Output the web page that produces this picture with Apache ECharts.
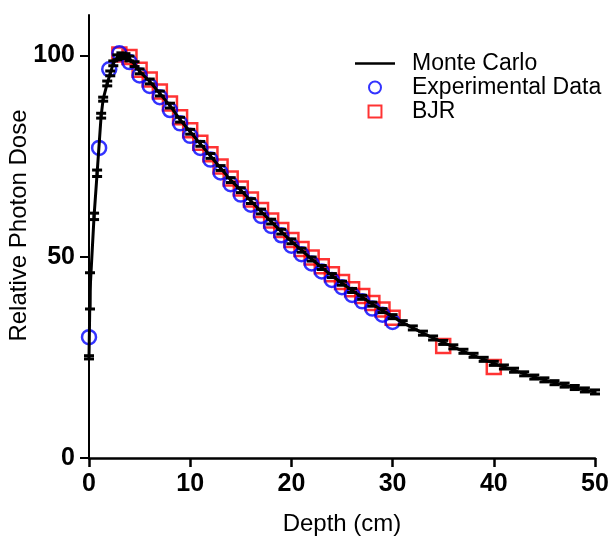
<!DOCTYPE html>
<html>
<head>
<meta charset="utf-8">
<script src="https://cdn.jsdelivr.net/npm/echarts@6/dist/echarts.min.js"></script>
<style>
  html, body { margin: 0; padding: 0; background: #fff; }
  #chart { width: 609px; height: 537px; }
</style>
</head>
<body>
<div id="chart"></div>
<script>
// Monte Carlo depth dose (cm, relative dose, error)
const mcDepth = [0, 0.1, 0.5, 0.8, 1.2, 1.4, 1.8, 2.1, 2.4, 2.8, 3.2, 3.6, 4, 4.5, 5,
  6, 7, 8, 9, 10, 11, 12, 13, 14, 15, 16, 17, 18, 19, 20,
  21, 22, 23, 24, 25, 26, 27, 28, 29, 30, 31, 32, 33, 34, 35,
  36, 37, 38, 39, 40, 41, 42, 43, 44, 45, 46, 47, 48, 49, 50];
const mcDose = [25, 41.5, 60, 70.7, 85, 89.1, 93, 95.5, 98, 99.5, 100, 99.8, 99.2, 97.8, 96,
  93.5, 90.5, 87.5, 84, 81, 78, 75, 72, 69, 66.5, 63.8, 61.2, 58.7, 56.2, 53.8,
  51.6, 49.4, 47.3, 45.3, 43.4, 41.6, 39.9, 38.2, 36.6, 35.1, 33.6, 32.3, 31.0, 29.8, 28.7,
  27.6, 26.5, 25.5, 24.5, 23.5, 22.6, 21.8, 20.9, 20.1, 19.4, 18.7, 18.1, 17.5, 16.9, 16.4];
const mcErr = [0.4, 4.5, 0.8, 0.8, 0.6, 0.5, 0.6, 0.6, 0.6, 0.6, 0.6, 0.6, 0.6, 0.6, 0.6,
  0.6, 0.6, 0.6, 0.6, 0.6, 0.6, 0.6, 0.6, 0.6, 0.6, 0.6, 0.6, 0.6, 0.6, 0.6,
  0.5, 0.5, 0.5, 0.5, 0.5, 0.5, 0.5, 0.5, 0.5, 0.5, 0.5, 0.5, 0.5, 0.5, 0.5,
  0.5, 0.5, 0.5, 0.5, 0.5, 0.5, 0.5, 0.5, 0.5, 0.5, 0.5, 0.5, 0.5, 0.5, 0.5];

// Experimental data
const expDepth = [0, 1, 2, 3, 4, 5, 6, 7, 8, 9, 10, 11, 12, 13, 14, 15,
  16, 17, 18, 19, 20, 21, 22, 23, 24, 25, 26, 27, 28, 29, 30];
const expDose = [30, 77, 96.5, 100.5, 98.3, 95, 92.4, 89.6, 86.4, 83.1, 80, 77, 74.1, 70.9, 68, 65.4,
  62.9, 60.1, 57.6, 55.3, 52.7, 50.6, 48.3, 46.3, 44.2, 42.4, 40.5, 38.9, 37.1, 35.6, 33.8];

// BJR
const bjrDepth = [3, 4, 5, 6, 7, 8, 9, 10, 11, 12, 13, 14, 15, 16, 17, 18,
  19, 20, 21, 22, 23, 24, 25, 26, 27, 28, 29, 30, 35, 40];
const bjrDose = [100.2, 99.6, 96.4, 94, 91, 88, 84.6, 81.4, 78.3, 75.4, 72.4, 69.4, 66.9, 64.2, 61.6, 59,
  56.6, 54.1, 51.9, 49.8, 47.6, 45.6, 43.7, 41.9, 40.2, 38.5, 36.9, 34.8, 27.8, 22.6];

const xTicks = [0, 10, 20, 30, 40, 50];
const yTicks = [0, 50, 100];

const font = "'Liberation Sans', Arial, sans-serif";

const myChart = echarts.init(document.getElementById("chart"));

const option = {
  animation: false,
  backgroundColor: "#fff",
  grid: { left: 89, right: 14, top: 15, bottom: 79, outerBoundsMode: "none" },
  legend: {
    orient: "vertical",
    left: 350,
    top: 47,
    itemWidth: 40,
    itemHeight: 12,
    itemGap: 1,
    selectedMode: false,
    data: [
      { name: "Monte Carlo", icon: "path://M0,0H40V2.5H0Z", itemStyle: { color: "#000", borderWidth: 0 } },
      { name: "Experimental Data", icon: "circle" },
      { name: "BJR", icon: "path://M0,0H14V13H0Z" },
    ],
    formatter: (name) => "{g| }{t|" + name + "}",
    textStyle: {
      rich: {
        g: { width: 12 },
        t: { fontFamily: font, fontSize: 23, color: "#000", lineHeight: 24 },
      },
    },
  },
  xAxis: {
    type: "value",
    min: 0,
    max: 50,
    interval: 10,
    name: "Depth (cm)",
    nameLocation: "middle",
    nameGap: 54,
    nameTextStyle: { fontFamily: font, fontSize: 24, color: "#000" },
    splitLine: { show: false },
    axisLine: { lineStyle: { color: "#000", width: 2.5 } },
    axisTick: { length: 9, lineStyle: { color: "#000", width: 2.5 }, customValues: xTicks },
    axisLabel: {
      margin: 14, fontFamily: font, fontSize: 25, fontWeight: "bold", color: "#000",
      customValues: xTicks,
    },
  },
  yAxis: {
    type: "value",
    min: 0,
    max: 110,
    interval: 50,
    name: "Relative Photon Dose",
    nameLocation: "middle",
    nameGap: 58,
    nameMoveOverlap: false,
    nameTextStyle: { fontFamily: font, fontSize: 24, color: "#000", padding: [0, 0, 0, 22] },
    splitLine: { show: false },
    axisLine: { lineStyle: { color: "#000", width: 2 } },
    axisTick: { length: 9, lineStyle: { color: "#000", width: 2 }, customValues: yTicks },
    axisLabel: {
      margin: 14, fontFamily: font, fontSize: 25, fontWeight: "bold", color: "#000",
      customValues: yTicks,
    },
  },
  series: [
    {
      name: "BJR",
      type: "scatter",
      symbol: "rect",
      symbolSize: 14,
      z: 2,
      itemStyle: { color: "rgba(0,0,0,0)", borderColor: "#ff0000", borderWidth: 2.5 },
      data: bjrDepth.map((d, i) => [d, bjrDose[i]]),
    },
    {
      name: "Experimental Data",
      type: "scatter",
      symbol: "circle",
      symbolSize: 14,
      z: 3,
      itemStyle: { color: "rgba(0,0,0,0)", borderColor: "#0000ff", borderWidth: 2.5 },
      data: expDepth.map((d, i) => [d, expDose[i]]),
    },
    {
      name: "Monte Carlo",
      type: "line",
      symbol: "none",
      z: 4,
      lineStyle: { color: "#000", width: 3 },
      itemStyle: { color: "#000" },
      data: mcDepth.map((d, i) => [d, mcDose[i]]),
    },
    {
      name: "Monte Carlo",
      type: "custom",
      z: 5,
      renderItem: function (params, api) {
        const x = api.value(0);
        const y = api.value(1);
        const e = api.value(2);
        const hi = api.coord([x, y + e]);
        const lo = api.coord([x, y - e]);
        const w = 5;
        const style = { stroke: "#000", lineWidth: 3 };
        return {
          type: "group",
          children: [
            { type: "line", shape: { x1: hi[0], y1: hi[1], x2: lo[0], y2: lo[1] }, style: style },
            { type: "line", shape: { x1: hi[0] - w, y1: hi[1], x2: hi[0] + w, y2: hi[1] }, style: style },
            { type: "line", shape: { x1: lo[0] - w, y1: lo[1], x2: lo[0] + w, y2: lo[1] }, style: style },
          ],
        };
      },
      data: mcDepth.map((d, i) => [d, mcDose[i], mcErr[i]]),
    },
  ],
};

myChart.setOption(option);
</script>
</body>
</html>
